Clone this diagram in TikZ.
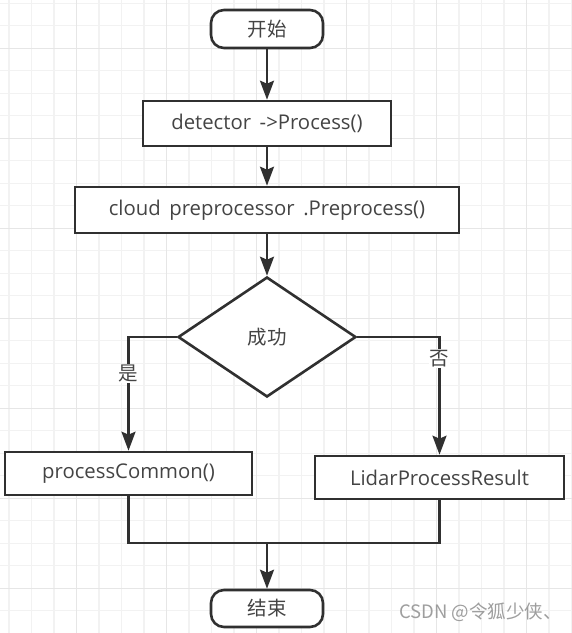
\documentclass[tikz,border=0pt]{standalone}
\usepackage{fontspec}
\setmainfont{Open Sans}
\newfontfamily\cjk{Noto Sans CJK SC}
\usepackage{xcolor}
\usepackage{tikz}
\usetikzlibrary{arrows.meta}
\usetikzlibrary{shapes.geometric}
\definecolor{ink}{HTML}{303030}
\definecolor{txt}{HTML}{444444}
\definecolor{gridminor}{HTML}{F2F2F2}
\definecolor{gridmajor}{HTML}{E6E6E6}
\tikzset{
	flowline/.style={line width=2.6pt,draw=ink},
	flowarrow/.style={flowline,-{Stealth[length=19pt,width=14pt,inset=3pt]}},
	terminal/.style={draw=ink,line width=2.6pt,rounded corners=13pt,minimum width=112pt,minimum height=38pt,font=\cjk\fontsize{19.5}{22}\selectfont,text=txt,fill=white},
	process/.style={draw=ink,line width=2.6pt,minimum height=45pt,font=\fontsize{20.3}{22}\selectfont,text=txt,fill=white},
	decision/.style={diamond,draw=ink,line width=2.6pt,minimum width=178pt,minimum height=120pt,inner sep=0pt,font=\cjk\fontsize{19.5}{22}\selectfont,text=txt,fill=white},
	branchlabel/.style={fill=white,inner sep=1pt,font=\cjk\fontsize{19.5}{22}\selectfont,text=txt}
}
\begin{document}
\begin{tikzpicture}[x=1pt,y=-1pt]
		\useasboundingbox (0,0) rectangle (572,633);
		\fill[white] (0,0) rectangle (572,633);
		\foreach \i in {0,...,25}
			\draw[line width=1.3pt,gridminor] ({9+22.5*\i},0) -- ({9+22.5*\i},633);
		\foreach \j in {0,...,27}
			\draw[line width=1.3pt,gridminor] (0,{3.3+22.5*\j}) -- (572,{3.3+22.5*\j});
		\foreach \i in {3,7,...,23}
			\draw[line width=1.3pt,gridmajor] ({9+22.5*\i},0) -- ({9+22.5*\i},633);
		\foreach \j in {2,6,...,26}
			\draw[line width=1.3pt,gridmajor] (0,{3.3+22.5*\j}) -- (572,{3.3+22.5*\j});
		\node[terminal] (start) at (267,29) {开始};
		\node[process,minimum width=248pt] (detector) at (267,123.5) {detector\,\ ->Process()};
		\node[process,minimum width=384pt,minimum height=46pt] (preprocess) at (267,210) {cloud\,\ preprocessor\,\ .Preprocess()};
		\node[decision] (success) at (267,337) {成功};
		\node[process,minimum width=247pt,minimum height=43pt] (common) at (128.5,473.5) {processCommon()};
		\node[process,minimum width=249pt,minimum height=43pt] (result) at (439.5,477.5) {LidarProcessResult};
		\node[terminal,minimum height=37pt] (finish) at (267,608.5) {结束};
		\coordinate (merge) at (267,543);
		\draw[flowarrow] (start) -- (detector);
		\draw[flowarrow] (detector) -- (preprocess);
		\draw[flowarrow] (preprocess) -- (success);
		\draw[flowarrow] (success.west) -| node[branchlabel,pos=0.66] {是} (common.north);
		\draw[flowarrow] (success.east) -| node[branchlabel,pos=0.59] {否} (result.north);
		\draw[flowline] (common.south) |- (merge);
		\draw[flowline] (result.south) |- (merge);
		\draw[flowarrow] (merge) -- (finish.north);
		\node[anchor=west,text=black!38,font=\cjk\fontsize{18.5}{20}\selectfont,inner sep=0pt] (mark) at (399,612) {CSDN @令狐少侠、};
	\end{tikzpicture}
\end{document}
